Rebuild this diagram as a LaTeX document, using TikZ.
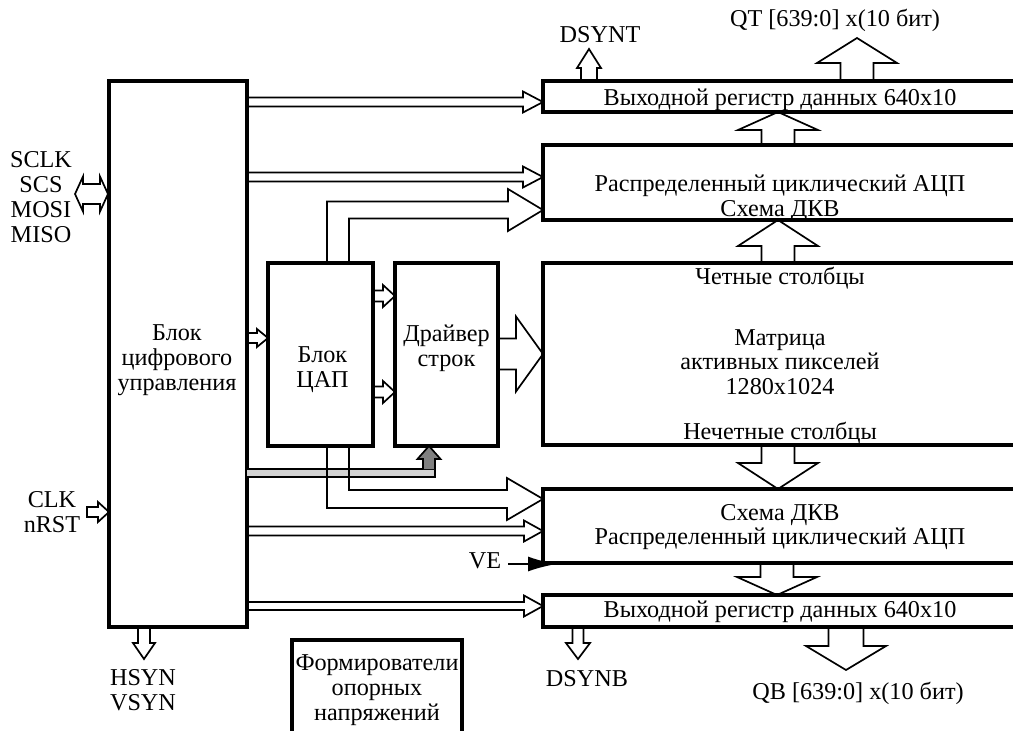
\documentclass[tikz,border=0pt]{standalone}
\usepackage{fontspec}
\setmainfont{Liberation Serif}
\usepackage{xcolor}
\usepackage{tikz}
\usetikzlibrary{positioning, arrows.meta, calc}
\definecolor{bandgray}{HTML}{D2D2D2}
\definecolor{headgray}{HTML}{808080}

\tikzset{
  blk/.style={draw, line width=3.6pt, inner sep=0pt, outer sep=0pt, anchor=north west},
  txt/.style={align=center, inner sep=0pt, font=\fontsize{24.2}{24.8}\selectfont},
  bus/.style={draw, line width=1.7pt, line join=miter},
}

% hollow bus arrow, horizontal: [extra path]{from}{tip}{shaft half}{head half}{head length}
\newcommand{\hbus}[6][]{%
  \draw[bus] let \p1=(#2), \p2=(#3), \n1={sign(\x1-\x2)*#6} in
    (\x1,\y2+#4pt) -- (\x2+\n1*1pt,\y2+#4pt) -- (\x2+\n1*1pt,\y2+#5pt) -- (\p2)
    -- (\x2+\n1*1pt,\y2-#5pt) -- (\x2+\n1*1pt,\y2-#4pt) -- (\x1,\y2-#4pt) #1;}
% same, vertical
\newcommand{\vbus}[6][]{%
  \draw[bus] let \p1=(#2), \p2=(#3), \n1={sign(\y1-\y2)*#6} in
    (\x2+#4pt,\y1) -- (\x2+#4pt,\y2+\n1*1pt) -- (\x2+#5pt,\y2+\n1*1pt) -- (\p2)
    -- (\x2-#5pt,\y2+\n1*1pt) -- (\x2-#4pt,\y2+\n1*1pt) -- (\x2-#4pt,\y1) #1;}

\begin{document}
\begin{tikzpicture}[x=1pt, y=-1pt]
  \useasboundingbox (0,0) rectangle (1013,731);
  \clip (0,0) rectangle (1013,731);

  % blocks
  \node[blk, minimum width=138pt, minimum height=546pt] (ctrl) at (109,81) {};
  \node[blk, minimum width=474pt, minimum height=31pt] (reg1) at (543,81) {};
  \node[blk, minimum width=474pt, minimum height=75pt] (adc1) at (543,145) {};
  \node[blk, minimum width=474pt, minimum height=182pt] (mat) at (543,263) {};
  \node[blk, minimum width=474pt, minimum height=74pt] (adc2) at (543,489) {};
  \node[blk, minimum width=474pt, minimum height=32pt] (reg2) at (543,595) {};
  \node[blk, minimum width=105pt, minimum height=183pt] (dac) at (268,263) {};
  \node[blk, minimum width=103pt, minimum height=183pt] (drv) at (395,263) {};
  \node[blk, minimum width=170pt, minimum height=120pt] (form) at (292,640) {};

  % block texts
  \node[txt] (ctrltxt) at ($(ctrl.center)+(-1,6)$) {Блок\\цифрового\\управления};
  \node[txt] (reg1txt) at ($(reg1.center)+(0,3)$) {Выходной регистр данных 640x10};
  \node[txt] (adc1txt) at ($(adc1.center)+(0,16)$) {Распределенный циклический АЦП\\Схема ДКВ};
  \node[txt] (even) at ($(mat.north)+(0,15)$) {Четные столбцы};
  \node[txt] (mattxt) at ($(mat.center)+(0,8)$) {Матрица\\активных пикселей\\1280x1024};
  \node[txt] (odd) at ($(mat.south)+(0,-12)$) {Нечетные столбцы};
  \node[txt] (adc2txt) at ($(adc2.center)+(0,1)$) {Схема ДКВ\\Распределенный циклический АЦП};
  \node[txt] (reg2txt) at ($(reg2.center)+(0,1)$) {Выходной регистр данных 640x10};
  \node[txt] (dactxt) at ($(dac.center)+(2,15)$) {Блок\\ЦАП};
  \node[txt] (drvtxt) at ($(drv.center)+(0,-6)$) {Драйвер\\строк};
  \node[txt] (formtxt) at (377,690) {Формирователи\\опорных\\напряжений};

  % outside labels
  \node[txt] (spi) at (41,197) {SCLK\\SCS\\MOSI\\MISO};
  \node[txt] (clk) at (52,512) {CLK\\nRST};
  \node[txt] (sync) at (143,690) {HSYN\\VSYN};
  \node[txt] (dsynt) at (600,35) {DSYNT};
  \node[txt] (qt) at (835,20) {QT [639:0] x(10 бит)};
  \node[txt] (dsynb) at (587,679) {DSYNB};
  \node[txt] (qb) at (858,693) {QB [639:0] x(10 бит)};
  \node[txt] (ve) at (485,561) {VE};

  \coordinate (qtend) at (857,38);
  \coordinate (qbend) at (846,670);
  \coordinate (dsyntend) at (589,49);
  \coordinate (dsynbend) at (578,659);
  \coordinate (syncend) at (144,659);
  \coordinate (clkin) at (87,512);
  \coordinate (spimid) at (91.5,194);
  \coordinate (vein) at (508,564);

  % grey bus to the row driver
  \draw[bus, fill=bandgray] let \p1=(ctrl.east), \p2=($(drv.south)+(-17.5,0)$) in
    (\x1,\y2-23pt) -- (\x2+6pt,\y2-23pt) -- (\x2+6pt,\y2-31pt) -- (\x1,\y2-31pt);
  \draw[bus, fill=headgray] let \p2=($(drv.south)+(-17.5,0)$) in
    (\x2-6pt,\y2-23pt) -- (\x2-6pt,\y2-13pt) -- (\x2-11.5pt,\y2-13pt) -- (\p2)
    -- (\x2+11.5pt,\y2-13pt) -- (\x2+6pt,\y2-13pt) -- (\x2+6pt,\y2-23pt);

  % buses from the control block
  \hbus{ctrl.east}{$(reg1.west)+(0,5.5)$}{4.5}{10.5}{20}
  \hbus{ctrl.east}{$(adc1.west)+(0,-5.5)$}{4.5}{10.5}{20}
  \hbus{ctrl.east}{$(dac.west)+(0,-16.5)$}{5}{9}{11}
  \hbus{ctrl.east}{$(adc2.west)+(0,5)$}{4.5}{10.5}{19}
  \hbus{ctrl.east}{$(reg2.west)+(0,-5)$}{4}{10.5}{19}
  \hbus{dac.east}{$(drv.west)+(0,-58.5)$}{5.5}{11}{12}
  \hbus{dac.east}{$(drv.west)+(0,37.5)$}{5.5}{11}{12}
  \hbus{drv.east}{mat.west}{15.5}{37.5}{27}

  % DAC to both ADC blocks
  \draw[bus] let \p1=(dac.north), \p2=($(adc1.west)+(0,27.5)$) in
    (\x1+6.5pt,\y1) |- (\x2-35pt,\y2+8.5pt) -- (\x2-35pt,\y2+21pt) -- (\p2)
    -- (\x2-35pt,\y2-21pt) -- (\x2-35pt,\y2-8.5pt) -| (\x1+28.5pt,\y1);
  \draw[bus] let \p1=(dac.south), \p2=($(adc2.west)+(0,-27)$) in
    (\x1+28.5pt,\y1) |- (\x2-36pt,\y2+9pt) -- (\x2-36pt,\y2+21pt) -- (\p2)
    -- (\x2-36pt,\y2-21pt) -- (\x2-36pt,\y2-9pt) -| (\x1+6.5pt,\y1);

  % data path
  \vbus{adc1.north}{$(reg1.south)+(-2,0)$}{16.5}{40}{18}
  \vbus{mat.north}{$(adc1.south)+(-2,0)$}{16.5}{40}{26}
  \vbus{mat.south}{$(adc2.north)+(-2,0)$}{16.5}{40}{26}
  \vbus{adc2.south}{$(reg2.north)+(-3,0)$}{16.5}{40}{18}
  \vbus{reg1.north}{qtend}{16.5}{40}{25}
  \vbus{reg2.south}{qbend}{17.5}{40}{24}
  \vbus{reg1.north}{dsyntend}{8}{12}{19}
  \vbus{reg2.south}{dsynbend}{5.5}{12}{16}
  \vbus{ctrl.south}{syncend}{6}{11}{16}

  % inputs
  \hbus[-- cycle]{clkin}{ctrl.west |- clkin}{5}{10}{11}
  \draw[bus] (spimid) ++(-16.5,0) -- ++(8,-17.5) -- ++(0,7.5) -- ++(17,0) -- ++(0,-7.5)
    -- ++(8,17.5) -- ++(-8,17.5) -- ++(0,-7.5) -- ++(-17,0) -- ++(0,7.5) -- cycle;
  \draw[-{Latex[length=29pt,width=15pt]}, line width=2.2pt] (vein) -- ($(adc2.south west)+(14,1)$);
\end{tikzpicture}
\end{document}
